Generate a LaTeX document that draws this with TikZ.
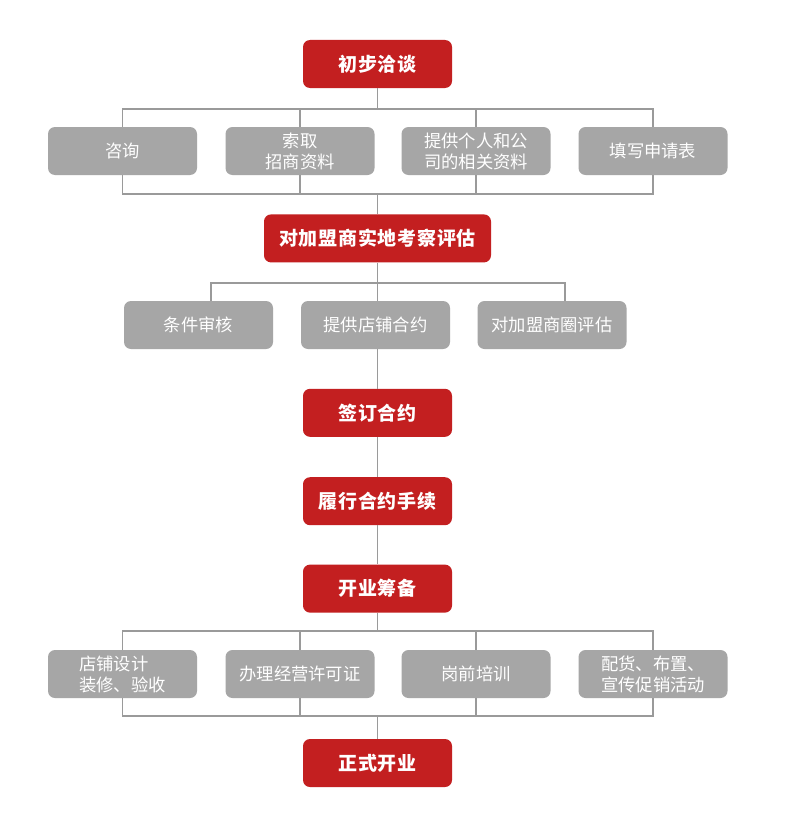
\documentclass[tikz,border=0pt]{standalone}
\usepackage{fontspec}
\newfontfamily\cjk{Noto Sans CJK SC}
\usepackage{xcolor}
\usetikzlibrary{calc, positioning}
\definecolor{brandred}{HTML}{C31F20}
\definecolor{boxgray}{HTML}{A6A6A6}
\definecolor{linegray}{HTML}{9A9A9A}

\begin{document}
\begin{tikzpicture}[x=1pt, y=-1pt,
 module/.style={rounded corners=7pt, minimum width=149pt, minimum height=48pt, inner sep=0pt, align=center, text=white},
 stepmodule/.style={module, fill=brandred, font=\cjk\bfseries\fontsize{19}{22}\selectfont\addfontfeature{LetterSpace=4}},
 widemodule/.style={stepmodule, minimum width=227pt},
 itemmodule/.style={module, fill=boxgray, font=\cjk\fontsize{17.3}{21}\selectfont},
 link/.style={draw=linegray, line width=1.8pt},
 ]
 \useasboundingbox[fill=white] (0,0) rectangle (797,816);
 \node[stepmodule] (talk) at (377.5,64) {初步洽谈};
 \node[widemodule, below= 126pt of talk] (survey) {对加盟商实地考察评估};
 \node[stepmodule, below= 126pt of survey] (sign) {签订合约};
 \node[stepmodule, below= 40pt of sign] (perform) {履行合约手续};
 \node[stepmodule, below= 39pt of perform] (prepare) {开业筹备};
 \node[stepmodule, below= 126pt of prepare] (open) {正式开业};

 % first row
 \node[itemmodule] (ask) at (122.5,151) {咨询};
 \node[itemmodule] (fetch) at (300,151) {索取\\招商资料};
 \node[itemmodule] (provide) at (476,151) {提供个人和公\\司的相关资料};
 \node[itemmodule] (form) at (653,151) {填写申请表};
 % second row
 \node[itemmodule] (check) at (198.5,325) {条件审核};
 \node[itemmodule] (lease) at (375.5,325) {提供店铺合约};
 \node[itemmodule] (ring) at (552,325) {对加盟商圈评估};
 % third row
 \node[itemmodule, align=left] (design) at (122.5,674) {店铺设计\\装修、验收};
 \node[itemmodule] (license) at (300,674) {办理经营许可证};
 \node[itemmodule] (train) at (476,674) {岗前培训};
 \node[itemmodule] (stock) at (653,674) {配货、布置、\\宣传促销活动};

\coordinate (bus1top) at (377.5,109);
\coordinate (bus1bot) at (377.5,194);
\coordinate (bus2) at (377.5,283);
\coordinate (bus3top) at (377.5,631);
\coordinate (bus3bot) at (377.5,716);

 \draw[link] (talk) -- (bus1top);
 \draw[link] (ask) |- (bus1top -| form) -- (form);
 \draw[link] (fetch) -- (bus1top -| fetch);
 \draw[link] (provide) -- (bus1top -| provide);
 \draw[link] (ask) |- (bus1bot -| form) -- (form);
 \draw[link] (fetch) -- (bus1bot -| fetch);
 \draw[link] (provide) -- (bus1bot -| provide);
 \draw[link] (bus1bot) -- (survey);

 \draw[link] (survey) -- (bus2);
 \draw[link] ([xshift=12.5pt]check.north) |- (bus2) -| ([xshift=13pt]ring.north);
 \draw[link] (bus2) -- (bus2 |- lease.north);
 \draw[link] (lease.south -| sign) -- (sign);

 \draw[link] (sign) -- (perform);
 \draw[link] (perform) -- (prepare);
 \draw[link] (prepare) -- (bus3top);
 \draw[link] (design) |- (bus3top -| stock) -- (stock);
 \draw[link] (license) -- (bus3top -| license);
 \draw[link] (train) -- (bus3top -| train);
 \draw[link] (design) |- (bus3bot -| stock) -- (stock);
 \draw[link] (license) -- (bus3bot -| license);
 \draw[link] (train) -- (bus3bot -| train);
 \draw[link] (bus3bot) -- (open);

\end{tikzpicture}
\end{document}
